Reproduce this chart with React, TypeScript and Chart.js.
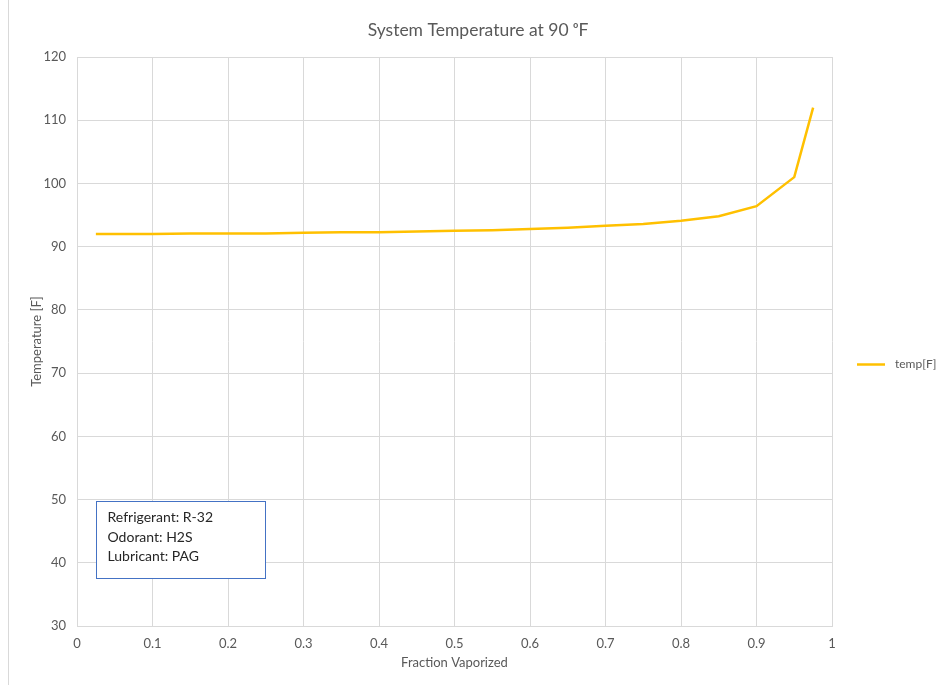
import React, { useEffect, useRef } from "react";
import { Chart, registerables } from "chart.js";

Chart.register(...registerables);

const fractionVaporized = [0.025, 0.05, 0.1, 0.15, 0.2, 0.25, 0.3, 0.35, 0.4, 0.45, 0.5, 0.55, 0.6, 0.65, 0.7, 0.75, 0.8, 0.85, 0.9, 0.95, 0.975];
const tempF = [92.0, 92.0, 92.0, 92.1, 92.1, 92.1, 92.2, 92.3, 92.3, 92.4, 92.5, 92.6, 92.8, 93.0, 93.3, 93.6, 94.1, 94.8, 96.4, 101.0, 112.0];
const seriesName = "temp[F]";
const chartTitle = "System Temperature at 90 ᵒF";
const xTitle = "Fraction Vaporized";
const yTitle = "Temperature [F]";
const annotationLines = ["Refrigerant: R-32", "Odorant: H2S", "Lubricant: PAG"];

const FONT = "Lato, 'Open Sans', sans-serif";
const TEXT = "#595959";
const GRID = "#d9d9d9";
const LINE = "#FFC000";

export default function App() {
  const ref = useRef<HTMLCanvasElement | null>(null);
  useEffect(() => {
    if (!ref.current) return;
    const extras = {
      id: "extras",
      afterDraw(chart: any) {
        const ctx = chart.ctx;
        const ca = chart.chartArea;
        ctx.save();
        // left border of chart frame
        ctx.strokeStyle = GRID;
        ctx.lineWidth = 1;
        ctx.beginPath();
        ctx.moveTo(8.5, 0);
        ctx.lineTo(8.5, chart.height);
        ctx.stroke();
        // title
        ctx.fillStyle = TEXT;
        ctx.font = `17.5px ${FONT}`;
        ctx.textAlign = "center";
        ctx.textBaseline = "middle";
        ctx.fillText(chartTitle, 478, 30);
        // legend
        const ly = ca.top + 307.5;
        ctx.strokeStyle = LINE;
        ctx.lineWidth = 2.5;
        ctx.beginPath();
        ctx.moveTo(ca.right + 25, ly);
        ctx.lineTo(ca.right + 53, ly);
        ctx.stroke();
        ctx.fillStyle = TEXT;
        ctx.font = `12px ${FONT}`;
        ctx.textAlign = "left";
        ctx.fillText(seriesName, ca.right + 63, ly);
        // annotation box
        const bx = ca.left + 19.5;
        const by = ca.bottom - 124.5;
        const bw = 169;
        const bh = 77;
        ctx.fillStyle = "#ffffff";
        ctx.fillRect(bx, by, bw, bh);
        ctx.strokeStyle = "#4472C4";
        ctx.lineWidth = 1;
        ctx.strokeRect(bx, by, bw, bh);
        ctx.fillStyle = "#262626";
        ctx.font = `14px ${FONT}`;
        annotationLines.forEach((t, i) => {
          ctx.fillText(t, bx + 11, by + 16 + i * 19.5);
        });
        ctx.restore();
      },
    };
    const chart = new Chart(ref.current, {
      type: "line",
      data: {
        datasets: [
          {
            label: seriesName,
            data: fractionVaporized.map((x, i) => ({ x, y: tempF[i] })),
            borderColor: LINE,
            backgroundColor: LINE,
            borderWidth: 2.5,
            pointRadius: 0,
            tension: 0,
          },
        ],
      },
      options: {
        responsive: false,
        animation: false,
        layout: { padding: { left: 0, right: 105, top: 57, bottom: 0 } },
        plugins: {
          legend: { display: false },
          tooltip: { enabled: false },
          title: { display: false },
        },
        scales: {
          x: {
            type: "linear",
            min: 0,
            max: 1,
            ticks: {
              stepSize: 0.1,
              color: TEXT,
              font: { family: FONT, size: 13 },
              padding: 10,
              maxRotation: 0,
              callback: (v: any) => String(Number(Number(v).toFixed(1))),
            },
            grid: { color: GRID, drawTicks: false },
            border: { color: GRID },
            title: { display: true, text: xTitle, color: TEXT, font: { family: FONT, size: 13 }, padding: { top: 4, bottom: 14 } },
            afterFit(scale: any) {
              scale.height = 59;
            },
          },
          y: {
            min: 30,
            max: 120,
            ticks: { stepSize: 10, color: TEXT, font: { family: FONT, size: 13 }, padding: 11 },
            grid: { color: GRID, drawTicks: false },
            border: { color: GRID },
            title: { display: true, text: yTitle, color: TEXT, font: { family: FONT, size: 13 }, padding: { top: 29, bottom: 0 } },
            afterFit(scale: any) {
              scale.width = 77;
            },
          },
        },
      },
      plugins: [extras],
    } as any);
    return () => chart.destroy();
  }, []);
  return (
    <div style={{ position: "fixed", left: 0, top: 0, width: 937, height: 685, background: "#fff" }}>
      <canvas ref={ref} width={937} height={685} style={{ display: "block" }} />
    </div>
  );
}
